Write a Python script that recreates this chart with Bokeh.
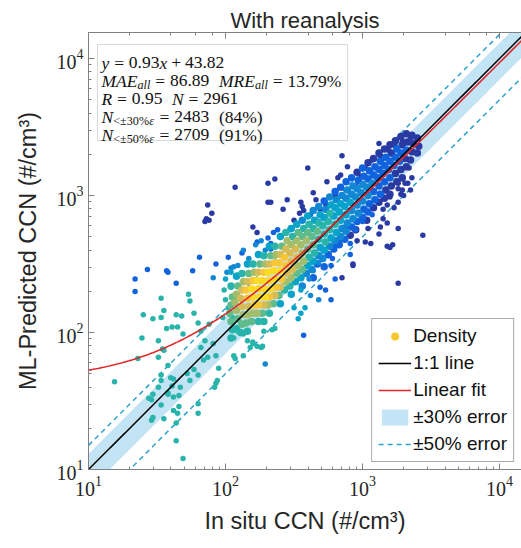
import numpy as np
from bokeh.plotting import figure
from bokeh.models import (Range1d, LogAxis, LogTicker, Label, BoxAnnotation,
                          ColumnDataSource, Legend, LegendItem)
from bokeh.embed import file_html
from bokeh.resources import INLINE

# ------------------------------------------------------------------ data
title_text = "With reanalysis"
x_label = "In situ CCN (#/cm³)"
y_label = "ML-Predicted CCN (#/cm³)"
x_range_log = (1.0, 4.16)
y_range_log = (1.0, 4.19)

fit_slope = 0.93
fit_intercept = 43.82
inner_error = 0.30
outer_error = 0.50
mae_all = "86.89"
mre_all = "13.79%"
r_value = "0.95"
n_total = "2961"
n_30, pct_30 = "2483", "(84%)"
n_50, pct_50 = "2709", "(91%)"

legend_labels = ["Density", "1:1 line", "Linear fit", "±30% error", "±50% error"]

# points: (log10 in-situ CCN, log10 predicted CCN, density level 0-9)
core_points = [
    (2.04,2.34,4),(2.05,2.26,5),(2.04,2.20,5),(2.03,2.14,5),(2.04,2.08,5),(2.05,2.02,4),(2.04,1.96,4),
    (2.08,2.41,3),(2.09,2.34,5),(2.08,2.28,6),(2.07,2.22,6),(2.08,2.16,6),(2.09,2.10,5),(2.08,2.03,4),
    (2.12,2.43,4),(2.13,2.37,6),(2.12,2.31,7),(2.11,2.25,7),(2.12,2.19,7),(2.13,2.13,6),(2.12,2.06,5),(2.11,2.00,4),
    (2.16,2.50,3),(2.17,2.43,5),(2.16,2.37,7),(2.15,2.31,8),(2.16,2.25,8),(2.17,2.19,7),(2.16,2.13,6),(2.15,2.07,5),(2.16,2.01,4),
    (2.20,2.50,4),(2.21,2.44,6),(2.20,2.38,8),(2.19,2.32,9),(2.20,2.26,9),(2.21,2.20,8),(2.20,2.14,6),(2.19,2.08,5),
    (2.24,2.57,3),(2.25,2.50,5),(2.24,2.44,7),(2.23,2.38,9),(2.24,2.32,9),(2.25,2.26,9),(2.24,2.20,8),(2.23,2.14,6),(2.24,2.08,4),
    (2.28,2.56,4),(2.29,2.50,6),(2.28,2.44,8),(2.27,2.38,9),(2.28,2.32,9),(2.29,2.26,9),(2.28,2.20,7),(2.27,2.14,5),(2.28,2.08,4),
    (2.32,2.63,3),(2.33,2.56,5),(2.32,2.50,7),(2.31,2.44,9),(2.32,2.38,9),(2.33,2.32,9),(2.32,2.26,8),(2.31,2.20,6),(2.32,2.14,4),
    (2.36,2.63,4),(2.37,2.57,6),(2.36,2.51,8),(2.35,2.45,9),(2.36,2.39,9),(2.37,2.33,8),(2.36,2.27,7),(2.35,2.21,5),
    (2.40,2.70,3),(2.41,2.63,5),(2.40,2.57,7),(2.39,2.51,8),(2.40,2.45,9),(2.41,2.39,8),(2.40,2.33,7),(2.39,2.27,5),(2.40,2.21,3),
    (2.44,2.73,4),(2.45,2.67,6),(2.44,2.61,7),(2.43,2.55,8),(2.44,2.49,8),(2.45,2.43,7),(2.44,2.37,6),(2.43,2.31,4),
    (2.48,2.76,3),(2.49,2.70,4),(2.48,2.64,6),(2.47,2.58,7),(2.48,2.52,7),(2.49,2.46,7),(2.48,2.40,6),(2.47,2.34,4),(2.48,2.28,3),
    (2.52,2.79,3),(2.53,2.73,5),(2.52,2.67,6),(2.51,2.61,7),(2.52,2.55,7),(2.53,2.49,6),(2.52,2.43,5),(2.51,2.37,3),
    (2.56,2.82,2),(2.57,2.76,4),(2.56,2.70,5),(2.55,2.64,6),(2.56,2.58,6),(2.57,2.52,6),(2.56,2.46,5),(2.55,2.40,3),(2.56,2.34,2),
    (2.60,2.85,3),(2.61,2.79,4),(2.60,2.73,5),(2.59,2.67,6),(2.60,2.61,5),(2.61,2.55,4),(2.60,2.49,3),(2.59,2.43,2),
    (2.64,2.89,2),(2.65,2.82,3),(2.64,2.76,4),(2.63,2.70,5),(2.64,2.64,5),(2.65,2.58,4),(2.64,2.52,3),(2.63,2.46,2),(2.64,2.40,1),
    (2.68,2.92,2),(2.69,2.86,3),(2.68,2.80,4),(2.67,2.74,5),(2.68,2.68,4),(2.69,2.62,3),(2.68,2.56,2),(2.67,2.50,1),
    (2.72,2.96,1),(2.73,2.90,2),(2.72,2.84,3),(2.71,2.78,4),(2.72,2.72,4),(2.73,2.66,4),(2.72,2.60,3),(2.71,2.54,2),(2.72,2.48,1),
    (2.76,2.99,2),(2.77,2.93,3),(2.76,2.87,4),(2.75,2.81,4),(2.76,2.75,4),(2.77,2.69,3),(2.76,2.63,2),(2.75,2.57,1),
    (2.80,3.03,1),(2.81,2.97,2),(2.80,2.91,3),(2.79,2.85,3),(2.80,2.79,4),(2.81,2.73,3),(2.80,2.67,2),(2.79,2.61,1),
    (2.84,3.06,1),(2.85,3.00,2),(2.84,2.94,3),(2.83,2.88,3),(2.84,2.82,3),(2.85,2.76,2),(2.84,2.70,2),(2.83,2.64,1),
    (2.88,3.10,1),(2.89,3.04,2),(2.88,2.98,2),(2.87,2.92,3),(2.88,2.86,3),(2.89,2.80,2),(2.88,2.74,2),(2.87,2.68,1),
    (2.92,3.13,1),(2.93,3.07,2),(2.92,3.01,2),(2.91,2.95,3),(2.92,2.89,2),(2.93,2.83,2),(2.92,2.77,1),(2.91,2.71,0),
    (2.96,3.17,0),(2.97,3.11,1),(2.96,3.05,2),(2.95,2.99,2),(2.96,2.93,2),(2.97,2.87,2),(2.96,2.81,1),(2.95,2.75,0),
    (3.00,3.20,1),(3.01,3.14,1),(3.00,3.08,2),(2.99,3.02,2),(3.00,2.96,2),(3.01,2.90,1),(3.00,2.84,1),
    (3.04,3.24,0),(3.05,3.18,1),(3.04,3.12,1),(3.03,3.06,2),(3.04,3.00,2),(3.05,2.94,1),(3.04,2.88,1),(3.03,2.82,0),
    (3.08,3.27,0),(3.09,3.21,1),(3.08,3.15,1),(3.07,3.09,2),(3.08,3.03,1),(3.09,2.97,1),(3.08,2.91,0),
    (3.12,3.31,0),(3.13,3.25,1),(3.12,3.19,1),(3.11,3.13,1),(3.12,3.07,1),(3.13,3.01,1),(3.12,2.95,0),
    (3.16,3.34,0),(3.17,3.28,1),(3.16,3.22,1),(3.15,3.16,1),(3.16,3.10,1),(3.17,3.04,0),(3.16,2.98,0),
    (3.20,3.37,0),(3.21,3.31,0),(3.20,3.25,1),(3.19,3.19,1),(3.20,3.13,1),(3.21,3.07,0),(3.20,3.01,0),
    (3.24,3.40,0),(3.25,3.34,1),(3.24,3.28,1),(3.23,3.22,1),(3.24,3.16,0),(3.25,3.10,0),
    (3.28,3.43,0),(3.29,3.37,0),(3.28,3.31,1),(3.27,3.25,1),(3.28,3.19,0),(3.29,3.13,0),
    (3.32,3.45,0),(3.33,3.39,0),(3.32,3.33,1),(3.31,3.27,0),(3.32,3.21,0),
    (3.36,3.44,0),(3.37,3.38,0),(3.36,3.32,0),(3.35,3.26,0),
    (3.40,3.42,0),(3.41,3.36,0),(3.40,3.31,0),
]

lowleft_points = [
    (1.43,2.46,1),(1.57,2.45,1),(1.58,2.44,1),(1.34,2.39,1),(1.34,2.30,1),(1.64,2.36,1),(1.76,2.45,1),
    (1.81,2.55,1),(1.93,2.50,1),(2.02,2.55,1),(2.12,2.58,1),(1.91,2.40,2),(2.23,2.66,1),
    (1.73,2.28,4),(1.74,2.23,4),(1.53,2.25,4),(1.40,2.13,4),(1.47,2.10,4),(1.53,2.11,4),(1.55,2.16,4),
    (1.64,2.13,4),(1.68,2.12,4),(1.77,2.14,4),(1.39,1.96,4),(1.51,1.94,4),(1.57,2.03,4),(1.61,2.04,4),
    (1.65,2.04,4),(1.69,1.99,4),(1.80,2.07,4),(1.82,2.01,4),(1.88,2.06,4),(1.36,1.81,4),(1.54,1.88,4),
    (1.55,1.87,4),(1.51,1.82,4),(1.19,1.64,4),(1.58,1.76,4),(1.60,1.67,4),(1.62,1.66,4),(1.53,1.69,4),
    (1.51,1.60,4),(1.47,1.55,4),(1.46,1.51,4),(1.53,1.47,4),(1.62,1.53,4),(1.66,1.54,4),(1.61,1.61,4),
    (1.58,1.56,4),(1.66,1.46,4),(1.55,1.37,4),(1.46,1.36,4),(1.62,1.43,4),(1.65,1.41,4),(1.67,1.60,4),
    (1.72,1.70,4),(1.74,1.65,4),(1.77,1.73,4),(1.80,1.69,4),(1.84,1.80,4),(1.87,1.82,4),(1.82,1.89,4),
    (1.85,1.94,4),(1.91,1.92,4),(1.93,1.83,4),(1.95,1.74,4),(1.92,1.60,4),(1.80,1.48,4),(1.80,1.41,4),
    (1.64,1.21,4),(1.69,1.08,4),(1.94,1.65,4),(1.93,1.63,4),(1.64,1.34,4),(1.44,1.52,4),(1.47,1.38,4),
    (1.53,1.65,4),(1.58,1.55,4),
]

nearcore_points = [
    (2.00,2.39,3),(2.01,2.44,2),(2.04,2.47,2),(2.06,2.48,2),(2.09,2.42,3),(2.04,2.33,4),(1.99,2.31,4),
    (2.00,2.24,4),(2.02,2.18,4),(2.09,2.26,5),(2.13,2.31,5),(1.98,2.11,4),(2.05,2.11,4),(2.11,2.07,4),
    (2.13,1.99,4),(2.16,1.94,4),(2.06,1.96,4),(2.06,1.83,4),(2.07,1.81,4),(2.13,1.83,4),(2.18,1.89,4),
    (2.23,1.90,4),(2.09,2.01,4),(2.13,2.60,2),(2.22,2.64,2),(2.29,2.60,2),(2.17,2.54,2),(2.26,2.67,2),
    (2.09,2.49,2),(2.04,2.44,3),
]

lower_points = [
    (2.57,1.98,1),(2.29,1.77,2),(2.69,2.33,1),(2.80,2.39,1),(2.85,2.40,0),(2.93,2.50,0),(2.93,2.49,0),
    (2.91,2.57,1),(2.77,2.49,1),(2.78,2.54,1),(2.91,2.65,1),(3.02,2.66,0),(3.06,2.65,0),(2.53,2.10,3),
    (2.55,2.14,3),(2.50,2.18,3),(2.58,2.18,3),(2.36,2.03,4),(2.34,2.02,4),(2.28,2.01,4),(2.26,1.89,4),
    (2.27,1.90,4),(2.20,1.93,4),(2.20,1.92,4),(2.88,2.78,1),(2.95,2.75,1),(3.00,2.81,1),(3.07,2.86,1),
    (2.84,2.68,1),(2.80,2.64,1),(2.75,2.56,1),(2.68,2.51,2),(2.64,2.45,2),(2.61,2.39,2),(2.55,2.31,3),
    (2.62,2.27,2),(2.68,2.24,2),(2.73,2.31,1),(2.77,2.24,1),
]

halo_points = [
    (2.07,3.06,0),(1.87,2.93,0),(1.90,2.87,0),(1.85,2.81,0),(1.86,2.83,0),(1.88,2.82,0),(2.20,2.77,0),
    (2.23,2.73,0),(2.31,3.09,0),(2.36,3.12,0),(2.60,3.20,0),(2.85,3.29,0),(2.31,2.95,0),(2.45,2.97,0),
    (2.42,2.90,0),(2.35,2.73,1),(2.38,2.75,1),(2.74,3.10,0),(2.82,3.13,0),(2.84,3.15,0),(2.89,3.21,0),
    (2.64,3.02,0),(2.33,2.95,0),(2.55,2.95,0),(2.56,2.92,0),(2.57,2.89,0),(2.54,2.87,0),(2.50,2.82,0),
    (2.47,2.75,1),(2.31,2.69,1),(2.33,2.65,1),(2.33,2.61,1),(3.12,3.38,0),(3.44,2.71,0),(3.26,2.76,0),
    (3.20,2.62,0),(3.12,2.72,0),(3.04,2.76,0),(2.96,2.67,0),(3.33,3.09,0),(3.35,3.04,0),(3.34,3.20,0),
    (3.26,3.05,0),(3.28,3.01,0),(3.20,2.99,0),(3.29,3.12,0),(3.18,2.63,0),(3.22,2.64,0),(3.18,2.80,0),
    (3.15,2.83,0),(3.13,2.77,0),(3.23,2.91,0),(3.30,3.00,0),(3.29,3.04,0),(3.26,3.09,0),(3.31,3.09,0),
    (3.36,3.13,0),(3.26,2.95,0),(3.18,2.93,0),(3.15,2.90,0),(3.26,2.36,0),
    (2.66,2.97,0),(2.69,2.90,0),(2.73,2.94,0),(2.62,2.86,1),(2.68,2.81,1),(2.77,2.86,1),(2.80,3.00,0),
    (2.88,3.04,0),(2.95,3.07,0),(2.99,3.14,0),(3.02,3.20,0),(3.07,3.26,0),(3.13,3.29,0),(3.19,3.33,0),
    (3.24,3.36,0),(3.29,3.40,0),(3.35,3.42,0),
]

# ------------------------------------------------------------------ colours (parula-like)
parula_stops = ["#352A87", "#0F5CDD", "#1481D6", "#06A4CA", "#2EB7A4",
                "#87BF77", "#D1BB59", "#FEC832", "#F9FB0E"]
level_pos = [0.04, 0.15, 0.27, 0.37, 0.48, 0.57, 0.67, 0.76, 0.86, 0.92]


def parula_at(t):
    rgb = np.array([[int(s[i:i + 2], 16) for i in (1, 3, 5)] for s in parula_stops], float)
    k = np.linspace(0, 1, len(parula_stops))
    c = [np.interp(t, k, rgb[:, j]) for j in range(3)]
    return "#%02x%02x%02x" % tuple(int(round(v)) for v in c)


level_colors = [parula_at(t) for t in level_pos]
TXT = "#262626"
AX = "#808080"

# ------------------------------------------------------------------ figure
W, H = 521, 548
BL, BR, BT, BB = 88, 0, 32, 79
FW, FH = W - BL - BR, H - BT - BB
PXX = FW / (x_range_log[1] - x_range_log[0])
PXY = FH / (y_range_log[1] - y_range_log[0])


def fx2x(fx):
    return 10 ** (x_range_log[0] + fx / PXX)


def fy2y(fy):
    return 10 ** (y_range_log[1] - fy / PXY)


p = figure(width=W, height=H, x_axis_type="log", y_axis_type="log",
           x_range=Range1d(10 ** x_range_log[0], 10 ** x_range_log[1]),
           y_range=Range1d(10 ** y_range_log[0], 10 ** y_range_log[1]),
           min_border_left=BL, min_border_right=BR, min_border_top=BT, min_border_bottom=BB,
           output_backend="svg", toolbar_location=None, title=title_text)
p.xgrid.visible = False
p.ygrid.visible = False
p.outline_line_color = None
p.background_fill_color = "white"
p.border_fill_color = "white"
p.title.align = "center"
p.title.text_font = "Liberation Sans"
p.title.text_font_size = "22px"
p.title.text_font_style = "normal"
p.title.text_color = TXT
p.title.standoff = 0

# curves
xs = np.logspace(x_range_log[0], x_range_log[1] + 0.1, 300)
r_band = p.varea(x=xs, y1=xs * (1 - inner_error), y2=xs * (1 + inner_error),
                 fill_color="#c3e4f5", fill_alpha=1.0)
r_d1 = p.line(xs, xs * (1 - outer_error), line_color="#2aa2cb", line_width=1.5, line_dash="5 4")
p.line(xs, xs * (1 + outer_error), line_color="#2aa2cb", line_width=1.5, line_dash="5 4")

# scatter
groups = [(core_points, 7.5), (lowleft_points, 5.5), (nearcore_points, 5.5),
          (lower_points, 5.5), (halo_points, 5.5)]
lx, ly, lev, sz = [], [], [], []
for pts, s in groups:
    for a, b, c in pts:
        lx.append(a); ly.append(b); lev.append(c); sz.append(s)
lx, ly, lev, sz = map(np.array, (lx, ly, lev, sz))
order = np.argsort(lev, kind="stable")
src = ColumnDataSource(dict(x=10 ** lx[order], y=10 ** ly[order],
                            color=[level_colors[int(v)] for v in lev[order]], sz=sz[order]))
p.scatter("x", "y", source=src, size="sz", marker="circle", fill_color="color", line_color=None)

r_11 = p.line(xs, xs, line_color="black", line_width=1.5)
r_fit = p.line(xs, fit_slope * xs + fit_intercept, line_color="#e0282a", line_width=1.6)
dens_src = ColumnDataSource(dict(x=[float("nan")], y=[float("nan")]))
r_dens = p.scatter("x", "y", source=dens_src, size=7, marker="circle",
                   fill_color="#f8c72c", line_color=None)

# axes
for ax in (p.xaxis[0], p.yaxis[0]):
    ax.major_tick_in = 6
    ax.major_tick_out = 0
    ax.minor_tick_in = 3
    ax.minor_tick_out = 0
    ax.axis_line_color = AX
    ax.major_tick_line_color = AX
    ax.minor_tick_line_color = AX
    ax.major_label_text_font = "Liberation Serif"
    ax.major_label_text_font_size = "20px"
    ax.major_label_text_color = TXT
    ax.axis_label_text_font = "Liberation Sans"
    ax.axis_label_text_font_size = "23.5px"
    ax.axis_label_text_font_style = "normal"
    ax.axis_label_text_color = TXT
p.xaxis[0].axis_label = x_label
p.yaxis[0].axis_label = y_label
p.xaxis[0].major_label_standoff = 6
p.xaxis[0].axis_label_standoff = 9
p.yaxis[0].major_label_standoff = 5
p.yaxis[0].axis_label_standoff = 13

top = LogAxis(ticker=LogTicker())
top.major_tick_in = 6
top.major_tick_out = 0
top.minor_tick_in = 3
top.minor_tick_out = 0
top.axis_line_color = AX
top.major_tick_line_color = AX
top.minor_tick_line_color = AX
top.major_label_text_font_size = "2px"
top.major_label_text_alpha = 0
top.major_label_standoff = 0
p.add_layout(top, "above")

# legend
legend = Legend(items=[
    LegendItem(label=legend_labels[0], renderers=[r_dens]),
    LegendItem(label=legend_labels[1], renderers=[r_11]),
    LegendItem(label=legend_labels[2], renderers=[r_fit]),
    LegendItem(label=legend_labels[3], renderers=[r_band]),
    LegendItem(label=legend_labels[4], renderers=[r_d1]),
], location="bottom_right")
legend.label_text_font = "Liberation Sans"
legend.label_text_font_size = "19px"
legend.label_text_color = "#111111"
legend.glyph_width = 33
legend.glyph_height = 20
legend.label_height = 20
legend.spacing = 5
legend.padding = 6
legend.margin = 7
legend.label_standoff = 2
legend.border_line_color = "#555555"
legend.border_line_width = 1
legend.background_fill_alpha = 1.0
p.add_layout(legend)

# statistics box
p.add_layout(BoxAnnotation(left=fx2x(9), right=fx2x(259), top=fy2y(12), bottom=fy2y(108),
                           fill_color="white", fill_alpha=1.0, line_color="#808080",
                           line_width=1, level="annotation"))

RG = {" ": .25, ".": .25, "=": .564, "+": .564, "%": .833, "(": .333, ")": .333,
      "<": .564, "±": .549}
IT = {"y": .444, "x": .444, "M": .833, "A": .611, "E": .611, "R": .611, "N": .667,
      "a": .5, "l": .278, "ε": .44}
FS = 17.5
SUB = 0.7


def seg_width(s, italic, size):
    tbl = IT if italic else RG
    return sum(tbl.get(ch, 0.5) for ch in s) * size


def draw_line(segs, baseline):
    adv = 0.0
    for s, kind in segs:
        if kind == "sp":
            adv += s * FS
            continue
        italic = kind in ("it", "sub_it")
        sub = kind.startswith("sub")
        size = FS * SUB if sub else FS
        p.add_layout(Label(x=fx2x(13), y=fy2y(baseline + (4 if sub else 0)), x_offset=adv,
                           text=s, text_font="Liberation Serif", text_font_size=f"{size:.1f}px",
                           text_font_style="italic" if italic else "normal",
                           text_color="#111111", text_baseline="alphabetic", text_align="left"))
        adv += seg_width(s, italic, size)


TH, MD, GAP = 0.278, 0.222, 0.55
draw_line([("y", "it"), (TH, "sp"), ("=", "rm"), (TH, "sp"), (f"{fit_slope:.2f}", "rm"),
           ("x", "it"), (MD, "sp"), ("+", "rm"), (MD, "sp"), (f"{fit_intercept:.2f}", "rm")], 30)
draw_line([("MAE", "it"), ("all", "sub_it"), (TH, "sp"), ("=", "rm"), (TH, "sp"), (mae_all, "rm"),
           (GAP, "sp"), ("MRE", "it"), ("all", "sub_it"), (TH, "sp"), ("=", "rm"), (TH, "sp"),
           (mre_all, "rm")], 48)
draw_line([("R", "it"), (TH, "sp"), ("=", "rm"), (TH, "sp"), (r_value, "rm"), (GAP, "sp"),
           ("N", "it"), (TH, "sp"), ("=", "rm"), (TH, "sp"), (n_total, "rm")], 66)
draw_line([("N", "it"), ("<±30%", "sub_rm"), ("ε", "sub_it"), (TH, "sp"), ("=", "rm"), (TH, "sp"),
           (n_30, "rm"), (GAP, "sp"), (pct_30, "rm")], 84)
draw_line([("N", "it"), ("<±50%", "sub_rm"), ("ε", "sub_it"), (TH, "sp"), ("=", "rm"), (TH, "sp"),
           (n_50, "rm"), (GAP, "sp"), (pct_50, "rm")], 102)

open("out.html", "w").write(file_html(p, INLINE))
